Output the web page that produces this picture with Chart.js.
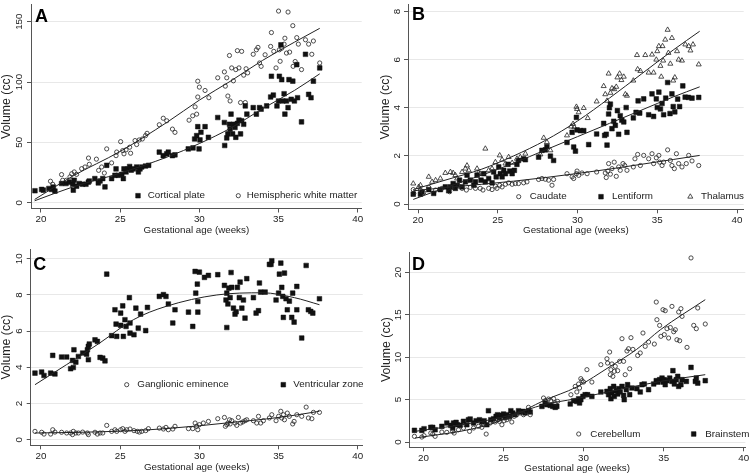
<!DOCTYPE html>
<html>
<head>
<meta charset="utf-8">
<script src="https://cdn.jsdelivr.net/npm/chart.js"></script>
<style>
  body { margin: 0; background: #fff; }
  #wrap { position: relative; width: 754px; height: 476px; }
  canvas { position: absolute; }
</style>
</head>
<body>
<div id="wrap">
  <canvas id="pA" width="377" height="238" style="left:0;top:0"></canvas>
  <canvas id="pB" width="377" height="238" style="left:377px;top:0"></canvas>
  <canvas id="pC" width="377" height="238" style="left:0;top:238px"></canvas>
  <canvas id="pD" width="377" height="238" style="left:377px;top:238px"></canvas>
</div>
<script>
// ---- data (gestational age in weeks, volume in cc) ----
const xTicks = [20, 25, 30, 35, 40];
const yTicksA = [0, 50, 100, 150];
const yTicksB = [0, 2, 4, 6, 8];
const yTicksC = [0, 2, 4, 6, 8, 10];
const yTicksD = [0, 5, 10, 15, 20];

// A
const corticalPlate = [[19.62,9.9],[20.04,11],[20.15,10.4],[20.5,11.8],[20.67,11],[20.78,13],[20.88,9.6],[21.3,15.9],[21.58,15.9],[21.8,17],[22.0,15.3],[22.04,10.4],[22.1,18.6],[22.25,13.7],[22.42,15.9],[22.63,15.3],[22.84,15.3],[22.99,17],[23.05,18],[23.4,20],[23.62,16.4],[23.73,18],[23.9,20],[24.04,13.1],[24.15,31],[24.46,20],[24.67,22.7],[24.74,28],[24.88,22.7],[25.1,23.5],[25.2,20],[25.24,28],[25.37,25.5],[25.5,28],[25.6,30],[25.7,27],[25.83,28],[26.04,29.6],[26.15,25.5],[26.25,28],[26.36,29.6],[26.6,30.4],[26.8,31],[27.47,41.9],[27.72,39],[27.94,40.5],[28.04,41.9],[28.3,39],[28.46,39.7],[29.3,44.6],[29.6,45.4],[29.7,52.8],[29.83,55.6],[29.9,63],[29.98,44.6],[30.04,52],[30.1,58.4],[30.36,63],[30.57,54.2],[31.16,70.6],[31.58,66.5],[31.6,47.4],[31.73,53.7],[31.8,57],[31.9,65],[31.94,61],[32.0,73.4],[32.1,57],[32.15,65],[32.25,62.4],[32.3,54.2],[32.4,65.7],[32.5,68.4],[32.6,57],[32.67,67.9],[32.8,65],[32.9,80.2],[33.0,73.4],[33.4,78.8],[33.6,73.4],[33.8,78.8],[33.9,77.5],[34.25,80.2],[34.5,87.6],[34.55,104.8],[34.67,89.2],[34.9,80.2],[35.0,84.3],[35.05,104.8],[35.15,130.8],[35.2,102],[35.27,84.3],[35.35,90.3],[35.4,73.4],[35.5,84.3],[35.6,78.8],[35.66,102],[35.8,85.7],[35.9,100.7],[36.0,84.3],[36.15,114.4],[36.2,87],[36.45,67],[36.7,123],[36.9,89.8],[37.05,87],[37.2,100.7],[37.6,111.7]];
const whiteMatter = [[20.6,17.8],[20.74,15.3],[21.3,23.3],[21.37,18.6],[21.6,18.6],[21.83,21.4],[21.94,24],[22.1,25.5],[22.25,23.5],[22.57,28.2],[22.78,29.6],[23.0,37],[23.05,31.8],[23.5,36.1],[23.64,26.8],[23.83,29.6],[24.0,24.6],[24.15,44.6],[24.46,33],[24.74,39],[24.78,42],[25.03,50.6],[25.16,43.2],[25.24,40.5],[25.37,43.8],[25.6,46],[25.66,41],[25.94,51.5],[26.04,48.2],[26.2,52],[26.4,52.8],[26.6,55.6],[26.7,57.5],[27.47,64.6],[27.72,70],[27.94,67.9],[28.3,61],[28.46,58.3],[29.35,68.4],[29.58,72],[29.73,79.4],[29.83,73.4],[29.9,87.6],[29.9,100.7],[30.0,95.8],[30.36,93],[30.6,87],[31.16,103.5],[31.58,108.4],[31.64,96.6],[31.73,103.5],[31.8,88.4],[31.9,122],[31.94,84.3],[32.04,111.7],[32.15,101],[32.3,110.3],[32.4,126],[32.5,111.7],[32.6,83],[32.67,125.4],[32.8,105.7],[32.9,83],[32.95,111],[33.05,107.6],[33.4,123],[33.6,126.7],[33.7,128.7],[33.8,115.8],[33.9,113],[34.15,122.6],[34.5,129.5],[34.55,141],[34.7,125.4],[34.84,111.7],[35.0,158.8],[35.05,126.7],[35.1,117.2],[35.2,128],[35.35,131.4],[35.4,136.3],[35.5,124],[35.6,158],[35.7,124.8],[35.9,146.7],[35.92,113],[36.05,117],[36.15,136.8],[36.25,131.4],[36.45,110.3],[36.7,135],[36.9,131.4],[37.1,123],[37.2,134],[37.6,115.8]];
const fitCortical = [[19.6,1.6],[22,13],[25,24.5],[28,38],[30,49],[32,62],[34,78],[36,93],[37.6,106.8]];
const fitWhite = [[19.6,2.7],[22,22],[25,42.5],[28,67],[30,85],[32,101],[34,118],[36,133],[37.6,144.5]];

// B
const caudate = [[19.7,0.6],[19.73,0.44],[20.15,0.58],[20.35,0.47],[20.67,0.69],[21.1,0.58],[21.5,0.65],[21.98,0.51],[22.13,0.69],[22.55,0.74],[22.76,0.65],[23.03,0.58],[23.28,0.69],[23.6,0.65],[23.9,0.65],[24.07,0.58],[24.43,0.65],[24.64,0.6],[24.85,0.74],[24.95,0.65],[25.12,0.78],[25.27,0.71],[25.48,0.82],[25.68,0.88],[25.9,0.82],[26.1,0.85],[26.3,0.85],[26.62,0.88],[26.83,0.92],[27.56,1.02],[27.77,1.06],[27.98,1.03],[28.19,0.99],[28.4,0.78],[28.5,1.02],[29.34,1.26],[29.66,1.13],[29.76,1.06],[29.93,1.26],[29.97,1.37],[30.07,1.19],[30.28,1.29],[30.6,1.26],[31.2,1.33],[31.74,1.29],[31.8,1.1],[31.9,1.37],[31.95,1.68],[32.06,1.24],[32.16,1.47],[32.3,1.74],[32.43,1.15],[32.58,1.54],[32.68,1.4],[32.85,1.68],[32.96,1.6],[33.1,1.4],[33.5,1.54],[33.6,1.88],[33.77,2.06],[33.94,1.6],[34.15,2.02],[34.46,1.88],[34.67,2.09],[34.77,1.68],[34.94,1.92],[35.1,2.02],[35.15,1.74],[35.3,1.6],[35.4,1.74],[35.65,2.25],[35.82,1.81],[35.92,1.6],[36.07,1.47],[36.2,2.09],[36.34,1.68],[36.55,1.54],[36.82,1.68],[36.97,2.02],[37.18,1.79],[37.6,1.6]];
const lentiform = [[19.7,0.41],[20.15,0.41],[20.25,0.5],[20.67,0.6],[20.98,0.44],[21.4,0.6],[21.71,0.71],[21.92,0.55],[22.03,0.71],[22.2,0.85],[22.34,0.65],[22.45,0.78],[22.6,0.99],[22.76,0.71],[22.97,0.92],[23.07,1.2],[23.28,0.99],[23.5,0.78],[23.6,0.92],[23.7,1.2],[23.95,0.99],[24.12,1.26],[24.22,0.92],[24.43,1.06],[24.64,0.88],[24.74,1.33],[24.9,1.13],[25.06,1.54],[25.16,1.26],[25.27,1.13],[25.37,1.4],[25.48,1.26],[25.64,1.65],[25.75,1.37],[25.9,1.26],[26.04,1.4],[26.2,1.65],[26.3,1.81],[26.62,1.88],[26.73,1.84],[27.56,1.95],[27.77,2.23],[27.98,2.25],[28.08,2.39],[28.3,1.99],[28.5,1.81],[29.34,2.56],[29.66,2.98],[29.76,2.37],[29.87,2.2],[29.93,3.6],[29.97,3.08],[30.18,3.05],[30.39,3.05],[30.7,2.47],[31.2,2.91],[31.64,3.35],[31.7,2.85],[31.8,2.9],[31.85,2.45],[31.95,3.74],[32.0,4.0],[32.06,4.15],[32.16,3.13],[32.27,3.44],[32.37,3.27],[32.5,3.88],[32.58,2.9],[32.68,3.67],[32.78,3.48],[32.9,3.41],[33.05,4.01],[33.1,2.98],[33.5,3.58],[33.67,3.81],[33.8,4.29],[33.9,3.78],[34.15,4.37],[34.46,3.71],[34.67,4.58],[34.77,3.64],[34.94,4.37],[35.0,4.01],[35.1,4.65],[35.2,3.95],[35.3,4.18],[35.4,3.71],[35.53,4.4],[35.65,5.05],[35.8,3.76],[35.92,4.58],[36.0,4.05],[36.1,3.83],[36.28,4.36],[36.4,4.05],[36.6,4.91],[36.75,4.44],[36.95,4.43],[37.18,4.4],[37.6,4.43]];
const thalamus = [[19.7,0.85],[20.04,0.71],[20.15,0.78],[20.67,1.13],[20.88,0.92],[21.1,0.99],[21.4,1.06],[21.71,1.29],[22.03,1.33],[22.2,1.29],[22.34,1.2],[22.45,1.06],[22.76,1.33],[22.97,1.47],[23.07,1.6],[23.18,1.4],[23.7,1.47],[23.8,1.29],[23.9,1.26],[24.22,2.3],[24.43,1.4],[24.64,1.47],[24.85,1.74],[25.12,2.02],[25.27,1.84],[25.48,1.68],[25.68,1.95],[25.9,1.71],[26.2,1.88],[26.41,1.95],[26.73,2.09],[27.67,2.06],[27.88,2.75],[28.08,2.57],[28.3,2.23],[29.34,2.85],[29.6,3.22],[29.72,3.33],[29.8,3.19],[29.93,4.04],[29.97,3.95],[30.07,3.81],[30.39,3.99],[30.64,3.57],[31.2,4.26],[31.64,4.9],[31.74,4.56],[31.85,4.29],[31.95,5.42],[32.06,4.62],[32.16,4.81],[32.3,4.77],[32.43,4.87],[32.5,5.26],[32.64,5.42],[32.75,5.15],[32.9,5.29],[33.0,4.56],[33.1,4.5],[33.5,5.13],[33.73,6.19],[33.77,5.6],[33.94,5.53],[34.25,6.19],[34.46,5.46],[34.67,6.21],[34.77,5.46],[34.94,6.0],[35.0,6.35],[35.1,6.56],[35.2,5.74],[35.25,5.29],[35.33,6.56],[35.37,5.96],[35.5,6.83],[35.65,7.24],[35.7,6.28],[35.82,5.83],[35.92,6.9],[36.0,5.13],[36.1,5.26],[36.24,6.35],[36.34,6.0],[36.55,5.96],[36.76,6.63],[36.97,6.56],[37.08,6.38],[37.24,6.63],[37.6,5.8]];
const fitCaudate = [[19.7,0.55],[22,0.7],[24,0.82],[26,0.95],[28,1.1],[30,1.27],[32,1.45],[34,1.65],[36,1.85],[37.66,2.02]];
const fitLentiform = [[19.7,0.19],[22,0.75],[24,1.2],[26,1.7],[28,2.25],[30,2.8],[32,3.35],[34,3.9],[36,4.45],[37.66,4.87]];
const fitThalamus = [[19.7,0.6],[22,1.05],[24,1.45],[26,2.0],[28,2.65],[30,3.45],[32,4.4],[34,5.4],[36,6.4],[37.66,7.18]];

// C
const ganglionic = [[19.62,0.46],[20.04,0.41],[20.19,0.31],[20.61,0.31],[20.74,0.55],[20.88,0.42],[21.3,0.41],[21.62,0.37],[21.87,0.37],[21.99,0.28],[22.04,0.46],[22.2,0.37],[22.36,0.37],[22.63,0.42],[22.93,0.37],[22.99,0.28],[23.41,0.41],[23.56,0.31],[23.73,0.37],[23.9,0.37],[24.15,0.79],[24.46,0.46],[24.67,0.55],[24.78,0.46],[25.03,0.55],[25.16,0.61],[25.3,0.46],[25.41,0.55],[25.62,0.59],[25.87,0.5],[26.08,0.46],[26.21,0.42],[26.36,0.46],[26.61,0.5],[26.78,0.61],[27.47,0.64],[27.73,0.59],[27.89,0.68],[28.04,0.55],[28.32,0.59],[28.46,0.74],[29.31,0.61],[29.58,0.61],[29.73,0.92],[29.83,0.74],[29.9,0.55],[30.0,0.83],[30.25,0.92],[30.57,1.01],[31.16,1.16],[31.58,1.23],[31.64,0.74],[31.73,0.83],[31.8,0.92],[31.9,1.1],[31.94,0.87],[32.04,1.05],[32.25,0.92],[32.36,0.79],[32.46,1.23],[32.6,0.92],[32.74,0.98],[32.88,1.05],[32.99,1.1],[33.41,1.05],[33.62,0.92],[33.73,1.29],[33.87,0.92],[34.04,1.05],[34.42,1.2],[34.57,1.38],[34.84,1.05],[35.0,1.29],[35.14,1.57],[35.2,1.2],[35.3,1.38],[35.37,1.1],[35.55,1.47],[35.68,1.29],[35.89,0.87],[35.98,1.01],[36.15,1.38],[36.46,1.29],[36.74,1.8],[36.88,1.2],[37.1,1.16],[37.2,1.51],[37.58,1.51]];
const ventricular = [[19.62,3.68],[20.04,3.74],[20.19,3.55],[20.61,3.68],[20.74,4.66],[20.88,3.63],[21.3,4.57],[21.62,4.57],[21.87,3.92],[21.99,4.38],[22.04,3.99],[22.08,4.97],[22.2,4.29],[22.36,4.6],[22.63,4.79],[22.88,4.73],[22.93,4.97],[22.99,4.42],[22.99,5.16],[23.05,5.29],[23.41,5.52],[23.56,5.43],[23.73,4.55],[23.9,4.51],[24.04,4.36],[24.15,9.15],[24.46,5.75],[24.67,7.18],[24.74,6.39],[24.78,5.71],[25.03,7.0],[25.03,6.32],[25.16,7.4],[25.2,5.71],[25.3,6.63],[25.37,6.26],[25.58,7.85],[25.62,6.45],[25.62,5.89],[25.87,5.8],[25.99,7.27],[26.14,6.17],[26.29,6.94],[26.61,6.03],[26.72,7.31],[27.47,7.92],[27.73,8.02],[27.89,7.92],[28.04,7.5],[28.32,6.45],[28.46,7.18],[29.31,7.05],[29.58,6.26],[29.73,9.3],[29.77,8.1],[29.87,8.6],[29.9,7.64],[29.9,7.05],[30.0,9.26],[30.32,8.97],[30.57,9.08],[31.16,9.12],[31.58,8.53],[31.68,7.72],[31.73,8.1],[31.73,6.2],[31.8,7.5],[31.86,8.38],[31.94,7.85],[32.0,9.24],[32.04,8.42],[32.15,7.27],[32.25,6.94],[32.32,7.07],[32.4,8.42],[32.52,7.85],[32.57,8.71],[32.68,7.27],[32.78,7.72],[32.88,6.72],[32.99,8.9],[33.41,7.85],[33.58,7.0],[33.73,7.13],[33.79,8.66],[33.87,8.16],[34.15,8.16],[34.42,9.69],[34.52,9.69],[34.57,9.89],[34.84,7.72],[35.0,8.1],[35.05,9.15],[35.14,9.76],[35.2,8.42],[35.26,7.92],[35.3,6.76],[35.37,9.21],[35.47,7.79],[35.55,7.18],[35.68,7.66],[35.83,6.76],[35.89,8.1],[35.98,6.5],[36.15,8.47],[36.15,7.18],[36.46,5.62],[36.74,9.63],[36.88,7.18],[37.03,7.09],[37.16,7.0],[37.58,7.79]];
const fitGanglionic = [[19.62,0.37],[22,0.4],[25.8,0.5],[28,0.62],[30,0.77],[32,0.95],[34.25,1.15],[36,1.35],[37.58,1.57]];
const fitVentricular = [[19.62,3.04],[21.6,4.14],[23.7,5.34],[25.83,6.63],[27.9,7.37],[31.1,8.0],[34,8.12],[36,7.85],[37.58,7.46]];

// D
const cerebellum = [[19.44,0.67],[19.9,0.59],[20.04,0.75],[20.46,1.06],[20.58,0.94],[20.73,0.67],[21.15,1.18],[21.46,1.14],[21.83,1.26],[21.92,1.06],[22.19,1.45],[22.5,1.65],[22.88,1.26],[23.13,1.65],[23.44,1.85],[23.65,1.73],[23.75,2.04],[23.92,0.94],[24.17,2.24],[24.33,2.51],[24.48,2.36],[24.63,2.63],[24.75,2.44],[24.9,2.04],[25.04,2.51],[25.21,2.63],[25.38,2.83],[25.52,2.36],[25.67,3.03],[25.83,3.22],[26.04,3.42],[26.25,3.22],[26.42,3.61],[26.56,4.09],[26.67,3.22],[27.5,5.19],[27.6,4.87],[27.81,5.07],[27.96,4.87],[28.13,5.11],[28.23,4.6],[28.38,4.79],[29.21,5.58],[29.48,6.56],[29.58,5.9],[29.69,6.84],[29.75,6.37],[29.83,7.47],[29.9,7.23],[30.0,7.07],[30.21,8.53],[30.52,7.07],[31.08,9.12],[31.46,9.82],[31.5,9.31],[31.63,10.61],[31.67,7.94],[31.71,8.53],[31.77,9.2],[31.83,7.74],[31.92,8.33],[31.98,8.92],[32.13,8.41],[32.25,9.51],[32.4,12.18],[32.5,9.51],[32.6,7.94],[32.71,10.73],[32.81,11.0],[32.88,8.64],[32.96,12.3],[33.08,10.92],[33.38,10.2],[33.54,10.5],[33.71,12.85],[33.85,11.28],[34.06,11.79],[34.42,11.55],[34.54,16.5],[34.58,14.42],[34.75,13.75],[34.83,12.46],[34.96,15.6],[35.04,12.66],[35.1,15.48],[35.21,13.36],[35.31,12.26],[35.42,13.5],[35.52,15.99],[35.63,13.0],[35.73,13.24],[35.83,12.06],[35.94,15.33],[36.0,11.94],[36.08,15.72],[36.15,14.81],[36.46,11.16],[36.71,21.7],[36.88,13.75],[37.04,13.36],[37.13,15.8],[37.6,13.91]];
const brainstem = [[19.44,1.38],[19.9,1.38],[20.04,1.57],[20.46,1.73],[20.58,1.73],[20.73,1.45],[21.15,1.85],[21.46,2.24],[21.71,1.96],[21.83,1.65],[21.88,2.24],[22.04,2.32],[22.13,2.04],[22.29,1.96],[22.5,2.44],[22.71,2.04],[22.81,2.63],[22.92,2.71],[23.13,2.24],[23.29,2.51],[23.5,2.63],[23.65,2.36],[23.79,2.51],[23.96,2.04],[24.06,3.69],[24.21,2.63],[24.38,2.75],[24.54,3.03],[24.63,3.22],[24.75,2.83],[24.9,3.14],[25.0,3.3],[25.1,2.91],[25.21,3.22],[25.38,3.03],[25.46,3.69],[25.58,3.42],[25.73,3.22],[25.94,3.69],[26.04,3.54],[26.21,3.61],[26.35,3.42],[26.56,3.69],[26.67,3.54],[27.4,4.2],[27.6,4.6],[27.7,4.4],[27.92,4.32],[28.08,4.2],[28.23,4.09],[28.33,4.2],[29.17,4.48],[29.38,4.87],[29.58,4.79],[29.69,5.1],[29.75,4.6],[29.83,4.99],[29.96,5.38],[30.1,5.58],[30.25,5.58],[30.52,5.38],[31.08,5.9],[31.46,5.97],[31.56,5.58],[31.67,6.29],[31.71,5.1],[31.77,5.78],[31.88,6.56],[31.92,5.38],[32.04,6.05],[32.13,5.66],[32.19,6.29],[32.29,5.9],[32.4,6.56],[32.5,5.5],[32.54,4.99],[32.67,6.17],[32.75,6.76],[32.88,5.58],[33.02,6.37],[33.33,6.29],[33.54,5.9],[33.65,6.76],[33.79,6.84],[34.06,6.17],[34.38,6.84],[34.54,7.23],[34.63,7.07],[34.75,7.35],[34.9,7.54],[34.96,7.07],[35.04,7.35],[35.1,6.76],[35.21,7.23],[35.38,7.54],[35.52,7.15],[35.58,8.41],[35.67,6.84],[35.79,7.35],[35.88,7.74],[35.94,6.56],[36.08,6.76],[36.15,7.35],[36.42,7.15],[36.71,8.8],[36.98,7.15],[37.04,7.54],[37.13,6.95],[37.6,7.23]];
const fitCerebellum = [[19.48,0.47],[23.3,1.65],[25.5,3.0],[27.5,4.87],[29.58,6.5],[31.67,8.92],[33.3,10.9],[34.8,13.24],[37.6,16.78]];
const fitBrainstem = [[19.48,1.26],[23.3,2.32],[25.5,3.2],[27.5,4.4],[29.5,5.1],[31.67,5.97],[34.8,7.15],[37.6,7.94]];

// ---- styles ----
const FONT = '"Liberation Sans", Arial, Helvetica, sans-serif';
const INK = '#111';
const AXIS = '#555';
const marker = {
  square:   { pointStyle: 'rect', radius: 3.3, fill: INK, stroke: INK, lw: 0.5 },
  circle:   { pointStyle: 'circle', radius: 2.1, fill: 'rgba(255,255,255,0)', stroke: '#222', lw: 0.8 },
  triangle: { pointStyle: 'triangle', radius: 2.9, fill: 'rgba(255,255,255,0)', stroke: '#222', lw: 0.8 }
};

function pts(arr) { return arr.map(p => ({ x: p[0], y: p[1] })); }

function scatterSet(label, arr, kind) {
  const m = marker[kind];
  return {
    label, data: pts(arr), pointStyle: m.pointStyle, pointRadius: m.radius,
    pointBackgroundColor: m.fill, pointBorderColor: m.stroke, pointBorderWidth: m.lw,
    showLine: false
  };
}
function fitSet(arr) {
  return {
    label: 'fit', data: pts(arr), showLine: true, pointRadius: 0, borderColor: '#222',
    borderWidth: 1, cubicInterpolationMode: 'monotone', fill: false
  };
}

const panelText = {
  id: 'panelText',
  afterDraw(chart) {
    const o = chart.options.plugins.panelText;
    const ctx = chart.ctx, xs = chart.scales.x, ys = chart.scales.y;
    ctx.save();
    ctx.fillStyle = '#222';
    ctx.textAlign = 'center';
    ctx.textBaseline = 'middle';
    ctx.font = '9.8px ' + FONT;
    xs.ticks.forEach(t => ctx.fillText(String(t.value), xs.getPixelForValue(t.value), o.xLabelY));
    ys.ticks.forEach(t => {
      ctx.save();
      ctx.translate(o.yLabelX, ys.getPixelForValue(t.value));
      ctx.rotate(-Math.PI / 2);
      ctx.fillText(String(t.value), 0, 0);
      ctx.restore();
    });
    ctx.font = '9.8px ' + FONT;
    ctx.fillText('Gestational age (weeks)', (xs.left + xs.right) / 2, o.xTitleY);
    ctx.save();
    ctx.translate(o.yTitleX, (chart.chartArea.top + chart.chartArea.bottom) / 2 + o.yTitleShift);
    ctx.rotate(-Math.PI / 2);
    ctx.font = '12.3px ' + FONT;
    ctx.fillText('Volume (cc)', 0, 0);
    ctx.restore();
    // panel letter
    ctx.textAlign = 'left';
    ctx.font = 'bold 18px ' + FONT;
    ctx.fillStyle = '#000';
    ctx.fillText(o.letter, o.letterX, o.letterY);
    // legend
    ctx.font = '9.8px ' + FONT;
    o.legend.forEach(it => {
      const m = marker[it.kind];
      ctx.fillStyle = m.fill; ctx.strokeStyle = m.stroke; ctx.lineWidth = m.lw;
      Chart.helpers.drawPoint(ctx, { pointStyle: m.pointStyle, radius: m.radius, borderWidth: m.lw, rotation: 0 }, it.mx, o.legendY);
      ctx.fillStyle = '#222';
      ctx.fillText(it.label, it.tx, o.legendY);
    });
    ctx.restore();
  }
};

function makePanel(id, p) {
  const W = 377, H = 238;
  new Chart(document.getElementById(id), {
    type: 'scatter',
    data: { datasets: p.datasets },
    options: {
      responsive: false, animation: false, events: [],
      layout: { padding: { left: 0, top: p.box[2], right: W - p.box[1], bottom: 0 } },
      plugins: { legend: { display: false }, tooltip: { enabled: false }, panelText: p.text },
      scales: {
        x: {
          type: 'linear', min: p.xr[0], max: p.xr[1],
          afterBuildTicks: s => { s.ticks = xTicks.map(v => ({ value: v })); },
          afterFit: s => { s.height = H - p.box[3]; },
          ticks: { display: false },
          grid: { drawOnChartArea: false, drawTicks: true, tickLength: 4, tickColor: AXIS },
          border: { display: true, color: AXIS, width: 1 }
        },
        y: {
          type: 'linear', min: p.yr[0], max: p.yr[1],
          afterBuildTicks: s => { s.ticks = p.yTicks.map(v => ({ value: v })); },
          afterFit: s => { s.width = p.box[0]; },
          ticks: { display: false },
          grid: { color: '#e8e8e8', lineWidth: 1, drawTicks: true, tickLength: 4, tickColor: AXIS },
          border: { display: true, color: AXIS, width: 1 }
        }
      }
    },
    plugins: [panelText]
  });
}

makePanel('pA', {
  box: [31, 361.7, 3, 208.5], xr: [19.37, 40.25], yr: [-4.8, 164], yTicks: yTicksA,
  datasets: [fitSet(fitWhite), fitSet(fitCortical),
    scatterSet('Cortical plate', corticalPlate, 'square'),
    scatterSet('Hemispheric white matter', whiteMatter, 'circle')],
  text: { letter: 'A', letterX: 35, letterY: 17, xLabelY: 219.5, xTitleY: 230, yLabelX: 19, yTitleX: 7, yTitleShift: 0,
    legendY: 195.7, legend: [{ kind: 'square', label: 'Cortical plate', mx: 138, tx: 147.7 },
                             { kind: 'circle', label: 'Hemispheric white matter', mx: 238.3, tx: 246.7 }] }
});

makePanel('pB', {
  box: [31, 366.7, 3.3, 209.3], xr: [19.37, 40.42], yr: [-0.22, 8.28], yTicks: yTicksB,
  datasets: [fitSet(fitThalamus), fitSet(fitLentiform), fitSet(fitCaudate),
    scatterSet('Caudate', caudate, 'circle'),
    scatterSet('Lentiform', lentiform, 'square'),
    scatterSet('Thalamus', thalamus, 'triangle')],
  text: { letter: 'B', letterX: 35, letterY: 15, xLabelY: 220, xTitleY: 230, yLabelX: 20, yTitleX: 8.3, yTitleShift: 0,
    legendY: 196.7, legend: [{ kind: 'circle', label: 'Caudate', mx: 141.7, tx: 152.7 },
                             { kind: 'square', label: 'Lentiform', mx: 224, tx: 235 },
                             { kind: 'triangle', label: 'Thalamus', mx: 313.3, tx: 324 }] }
});

makePanel('pC', {
  box: [30.7, 362.7, 11, 207.3], xr: [19.35, 40.31], yr: [-0.31, 10.54], yTicks: yTicksC,
  datasets: [fitSet(fitVentricular), fitSet(fitGanglionic),
    scatterSet('Ganglionic eminence', ganglionic, 'circle'),
    scatterSet('Ventricular zone', ventricular, 'square')],
  text: { letter: 'C', letterX: 33.3, letterY: 26.7, xLabelY: 218.5, xTitleY: 229.3, yLabelX: 19.3, yTitleX: 6.7, yTitleShift: 0,
    legendY: 146.7, legend: [{ kind: 'circle', label: 'Ganglionic eminence', mx: 126.7, tx: 137.3 },
                             { kind: 'square', label: 'Ventricular zone', mx: 283.3, tx: 293.3 }] }
});

makePanel('pD', {
  box: [32, 368.3, 14, 209.3], xr: [19.1, 40.1], yr: [-0.62, 22.4], yTicks: yTicksD,
  datasets: [fitSet(fitCerebellum), fitSet(fitBrainstem),
    scatterSet('Cerebellum', cerebellum, 'circle'),
    scatterSet('Brainstem', brainstem, 'square')],
  text: { letter: 'D', letterX: 35, letterY: 26.7, xLabelY: 220, xTitleY: 230, yLabelX: 21.5, yTitleX: 9.3, yTitleShift: 0,
    legendY: 196, legend: [{ kind: 'circle', label: 'Cerebellum', mx: 201.7, tx: 213.3 },
                           { kind: 'square', label: 'Brainstem', mx: 316.7, tx: 328.3 }] }
});
</script>
</body>
</html>
